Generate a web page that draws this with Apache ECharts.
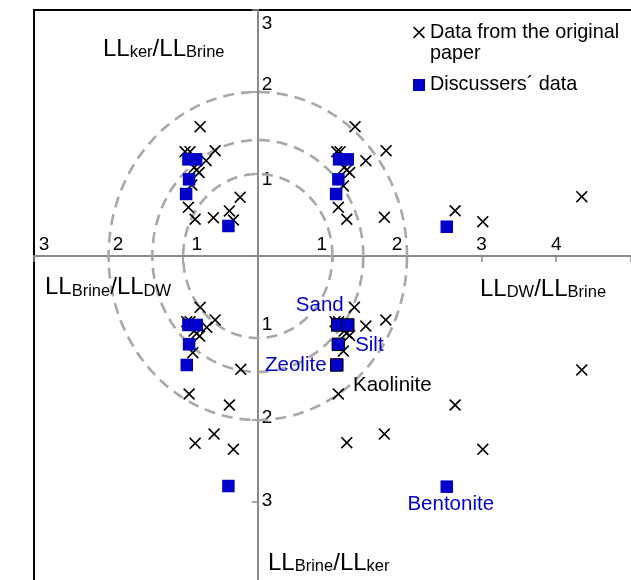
<!DOCTYPE html>
<html>
<head>
<meta charset="utf-8">
<script src="https://cdn.jsdelivr.net/npm/echarts@6/dist/echarts.min.js"></script>
<style>html,body{margin:0;padding:0;background:#fff;}#c{width:631px;height:580px;}</style>
</head>
<body>
<div id="c"></div>
<script>
// ---------- data ----------
// Data from the original paper, by quadrant [x, y]
const origUpperLeft = [[-0.773,1.577],[-0.975,1.272],[-0.908,1.272],[-0.572,1.285],[-0.693,1.162],[-0.853,1.079],[-0.820,1.049],[-0.787,1.018],[-0.885,0.866],[-0.930,0.594],[-0.840,0.448],[-0.595,0.467],[-0.381,0.549],[-0.237,0.716],[-0.327,0.439]];
const origUpperRight = [[1.304,1.577],[1.059,1.272],[1.103,1.272],[1.448,1.162],[1.720,1.284],[1.157,1.079],[1.193,1.049],[1.231,1.018],[1.147,0.854],[1.080,0.594],[1.193,0.448],[1.697,0.472],[2.645,0.552],[3.016,0.418],[4.343,0.723]];
const origLowerLeft = [[-0.773,-0.626],[-0.952,-0.801],[-0.908,-0.801],[-0.572,-0.780],[-0.684,-0.870],[-0.854,-0.915],[-0.818,-0.943],[-0.780,-0.976],[-0.871,-1.179],[-0.228,-1.382],[-0.921,-1.683],[-0.381,-1.817],[-0.586,-2.171],[-0.840,-2.284],[-0.327,-2.357]];
const origLowerRight = [[1.295,-0.626],[1.036,-0.801],[1.083,-0.801],[1.448,-0.854],[1.716,-0.780],[1.157,-0.915],[1.193,-0.939],[1.231,-0.970],[1.147,-1.159],[1.080,-1.683],[1.697,-2.171],[1.193,-2.277],[4.343,-1.390],[2.645,-1.817],[3.016,-2.357]];
const origLowerRightNames = ['','','','','','','','','','Kaolinite','','','','',''];

// Discussers' data, by quadrant [x, y]
const discUpperLeft = [[-0.930,1.179],[-0.827,1.179],[-0.921,0.935],[-0.961,0.756],[-0.394,0.366]];
const discUpperRight = [[1.090,1.179],[1.206,1.179],[1.080,0.935],[1.050,0.756],[2.533,0.357]];
const discLowerLeft = [[-0.930,-0.841],[-0.818,-0.841],[-0.921,-1.077],[-0.952,-1.329],[-0.394,-2.805]];
const discLowerRight = [[1.072,-0.841],[1.206,-0.841],[1.080,-1.077],[1.059,-1.329],[2.533,-2.813]];
const discLowerRightNames = ['Sand','','Silt','Zeolite','Bentonite'];

const circleRadii = [1, 1.414, 2];
const xTickLabels = [-3,-2,-1,1,2,3,4];
const yTickLabels = [-3,-2,-1,1,2,3];
const seriesNames = ['Data from the original paper', 'Discussers\u00b4 data'];

// ---------- styles ----------
const FONT = '"Liberation Sans", Arial, Helvetica, sans-serif';
const BLUE = '#0000c8';
const CROSS = 'path://M0,0.095 L0.095,0 L0.5,0.405 L0.905,0 L1,0.095 L0.595,0.5 L1,0.905 L0.905,1 L0.5,0.595 L0.095,1 L0,0.905 L0.405,0.5 Z';
const xLabelPad = {'-3':[0,0,0,20],'-2':[0,0,0,19],'-1':[0,0,0,27],'1':[0,21,0,0],'2':[0,20,0,0],'3':[0,0,0,0],'4':[0,0,0,0]};
const yLabelPad = {'3':[27,0,0,0],'2':[0,0,15,0],'1':[11,0,0,0],'-1':[0,0,27,0],'-2':[0,0,4,0],'-3':[0,0,3,0]};
const labelStyle = {
  'Sand':      {position:'inside', offset:[-18,-20], color:BLUE},
  'Silt':      {position:'inside', offset:[31,1], color:BLUE},
  'Zeolite':   {position:'inside', offset:[-41,0], color:BLUE},
  'Bentonite': {position:'inside', offset:[4,18], color:BLUE},
  'Kaolinite': {position:'inside', offset:[54,-9], color:'#000'}
};
const borderedIdx = [0,1,2,3];

// plot frame (pixels)
const G_LEFT = 34, G_TOP = 10, UNIT_X = 74.6, UNIT_Y = 82;
const X_MIN = -3, X_MAX = 6, Y_MIN = -4, Y_MAX = 3;
const gridW = (X_MAX - X_MIN) * UNIT_X, gridH = (Y_MAX - Y_MIN) * UNIT_Y;

function richFor(padMap, prefix) {
  const r = {};
  Object.keys(padMap).forEach(k => {
    r[prefix + k.replace('-', 'm')] = {fontSize:19, fontFamily:FONT, color:'#000', padding:padMap[k]};
  });
  return r;
}
function fmt(list, prefix) {
  return function (v) {
    const n = Math.round(v);
    if (Math.abs(v - n) > 1e-6 || list.indexOf(n) < 0) return '';
    return '{' + prefix + String(n).replace('-', 'm') + '|' + Math.abs(n) + '}';
  };
}
function labelled(points, names) {
  return points.map((p, i) => {
    const nm = names ? names[i] : '';
    if (!nm) return {value:p};
    const s = labelStyle[nm];
    return {value:p, label:{show:true, formatter:nm, position:s.position, offset:s.offset,
      color:s.color, fontSize:20.5, fontFamily:FONT}};
  });
}

const crossData = [].concat(labelled(origUpperLeft), labelled(origUpperRight),
  labelled(origLowerLeft), labelled(origLowerRight, origLowerRightNames));
const lrSquares = labelled(discLowerRight, discLowerRightNames).map((d, i) => {
  if (borderedIdx.indexOf(i) >= 0) d.itemStyle = {borderColor:'#000', borderWidth:1};
  return d;
});
const squareData = [].concat(labelled(discUpperLeft), labelled(discUpperRight),
  labelled(discLowerLeft), lrSquares);

function title(parts, x, y) {
  return {type:'text', x:x, y:y, z:50,
    style:{text:parts, align:'left', verticalAlign:'bottom', fill:'#000', fontFamily:FONT,
      rich:{m:{fontSize:24, lineHeight:24, fontFamily:FONT, fill:'#000'},
            s:{fontSize:16.5, lineHeight:11, verticalAlign:'bottom', fontFamily:FONT, fill:'#000'}}}};
}

const chart = echarts.init(document.getElementById('c'), null, {renderer:'canvas'});
chart.setOption({
  animation:false,
  backgroundColor:'#fff',
  grid:{left:G_LEFT, top:G_TOP, width:gridW, height:gridH, show:true, borderColor:'#000', borderWidth:2,
    containLabel:false, outerBoundsMode:'none'},
  xAxis:{type:'value', min:X_MIN, max:X_MAX, interval:1, position:'bottom',
    offset:-(-Y_MIN) * UNIT_Y,
    axisLine:{onZero:false, lineStyle:{color:'#8a8a8a', width:2}},
    axisTick:{show:true, inside:false, length:6, lineStyle:{color:'#8a8a8a', width:1.5}},
    axisLabel:{inside:true, margin:2, showMinLabel:true, showMaxLabel:true, hideOverlap:false,
      formatter:fmt(xTickLabels, 'x'), rich:richFor(xLabelPad, 'x')},
    splitLine:{show:false}},
  yAxis:{type:'value', min:Y_MIN, max:Y_MAX, interval:1, position:'left',
    offset:-(-X_MIN) * UNIT_X,
    axisLine:{onZero:false, lineStyle:{color:'#8a8a8a', width:2}},
    axisTick:{show:true, inside:false, length:6, lineStyle:{color:'#8a8a8a', width:1.5}},
    axisLabel:{inside:true, margin:4, showMinLabel:true, showMaxLabel:true, hideOverlap:false,
      formatter:fmt(yTickLabels, 'y'), rich:richFor(yLabelPad, 'y')},
    splitLine:{show:false}},
  legend:{orient:'vertical', left:413, top:0, padding:0, itemWidth:12, itemHeight:12, itemGap:9.2,
    selectedMode:false,
    textStyle:{fontSize:19.8, fontFamily:FONT, color:'#000'},
    formatter:function(n){ return n === seriesNames[0] ? ' \nData from the original\npaper' : n; },
    data:[{name:seriesNames[0], icon:CROSS, textStyle:{lineHeight:21.6}},
          {name:seriesNames[1], icon:'rect', textStyle:{lineHeight:22}}]},
  graphic:[
    title('{m|LL}{s|ker}{m|/LL}{s|Brine}', 103, 61),
    title('{m|LL}{s|Brine}{m|/LL}{s|DW}', 45, 299.5),
    title('{m|LL}{s|DW}{m|/LL}{s|Brine}', 480, 301),
    title('{m|LL}{s|Brine}{m|/LL}{s|ker}', 268, 575)
  ],
  series:[
    {type:'custom', name:'circles', coordinateSystem:'cartesian2d', silent:true, z:1,
      data:circleRadii.map(r => [r, 0]),
      encode:{x:0, y:1},
      renderItem:function(params, api){
        const r = api.value(0);
        const pts = [];
        for (let a = 0; a <= 360; a += 1) {
          const t = a * Math.PI / 180;
          pts.push(api.coord([r * Math.cos(t), r * Math.sin(t)]));
        }
        return {type:'polyline', shape:{points:pts},
          style:{stroke:'#a8a8a8', lineWidth:2.6, lineDash:[11,7], fill:null}};
      }},
    {type:'scatter', name:seriesNames[0], symbol:CROSS, symbolSize:12, z:3,
      itemStyle:{color:'#000', opacity:1}, data:crossData},
    {type:'scatter', name:seriesNames[1], symbol:'rect', symbolSize:12.5, z:4,
      itemStyle:{color:BLUE, opacity:1}, data:squareData}
  ]
});
</script>
</body>
</html>
